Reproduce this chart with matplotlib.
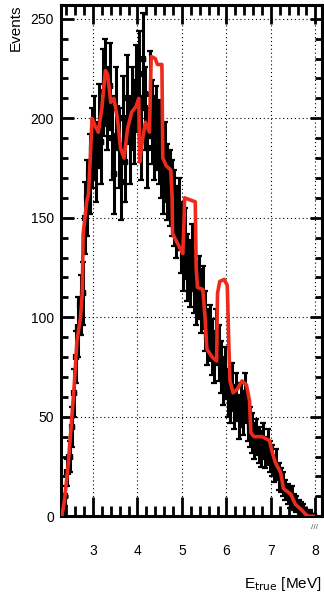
import matplotlib.pyplot as plt
import numpy as np
from matplotlib.ticker import MultipleLocator

plt.rcParams['font.family'] = ['Liberation Sans', 'DejaVu Sans']

# measured spectrum, 0.05 MeV bins
e_centers = np.arange(2.325, 8.0, 0.05)
counts = [3, 10, 22, 30, 45, 62, 80, 95, 106, 112,
          150, 160, 172, 185, 190, 178, 196, 188, 213, 218,
          205, 216, 190, 172, 205, 185, 168, 200, 178, 210,
          188, 205, 198, 215, 222, 190, 230, 205, 185, 212,
          198, 190, 195, 188, 180, 172, 178, 168, 165, 160,
          155, 148, 152, 140, 130, 137, 125, 122, 130, 118,
          112, 115, 108, 110, 98, 90, 92, 85, 80, 90,
          82, 75, 68, 72, 62, 58, 65, 55, 60, 50,
          56, 52, 60, 48, 45, 42, 38, 40, 36, 34,
          38, 32, 35, 30, 28, 24, 26, 20, 18, 16,
          13, 11, 9, 10, 7, 6, 5, 4, 3, 2,
          1, 1, 0, 0]
errors = [3, 5, 7, 8, 10, 12, 13, 15, 15, 16,
          18, 19, 20, 20, 21, 20, 21, 21, 22, 22,
          21, 22, 21, 20, 21, 20, 19, 21, 20, 22,
          21, 21, 21, 22, 22, 21, 23, 21, 20, 22,
          21, 21, 21, 21, 20, 20, 20, 19, 19, 19,
          19, 18, 18, 18, 17, 18, 17, 17, 17, 16,
          16, 16, 16, 16, 15, 14, 14, 14, 13, 14,
          14, 13, 12, 13, 12, 11, 12, 11, 12, 11,
          11, 11, 12, 10, 10, 10, 9, 9, 9, 9,
          9, 8, 9, 8, 8, 7, 8, 7, 6, 6,
          5, 5, 5, 5, 4, 4, 3, 3, 3, 2,
          2, 2, 1, 1]

# prediction curves (vertices)
pred_e = [2.30, 2.36, 2.44, 2.52, 2.58, 2.64, 2.72, 2.76, 2.78, 2.86,
          2.90, 2.95, 2.98, 3.05, 3.12, 3.20, 3.28, 3.33, 3.40, 3.47,
          3.55, 3.62, 3.70, 3.78, 3.87, 3.97, 4.03, 4.05, 4.12, 4.18,
          4.27, 4.31, 4.40, 4.45, 4.55, 4.57, 4.65, 4.75, 4.78, 4.79,
          4.95, 5.02, 5.05, 5.06, 5.30, 5.32, 5.35, 5.47, 5.52, 5.56,
          5.68, 5.78, 5.80, 5.85, 5.95, 6.02, 6.05, 6.08, 6.15, 6.25,
          6.35, 6.45, 6.52, 6.55, 6.62, 6.80, 6.97, 7.02, 7.10, 7.22,
          7.28, 7.45, 7.55, 7.70, 7.78, 7.85, 7.95]
pred_n = [0, 8, 25, 48, 66, 88, 100, 112, 142, 158,
          162, 185, 200, 196, 193, 205, 224, 222, 208, 210,
          200, 185, 180, 195, 203, 206, 210, 178, 190, 198,
          193, 231, 230, 227, 227, 180, 176, 174, 160, 142,
          135, 132, 150, 160, 158, 125, 115, 114, 100, 84,
          80, 78, 112, 118, 119, 116, 90, 68, 62, 64,
          68, 66, 58, 42, 40, 40, 38, 33, 27, 22,
          14, 11, 6, 3, 1, 0, 0]

fig = plt.figure(figsize=(3.24, 6.01), dpi=100)
ax = fig.add_axes([0.188, 0.141, 0.806, 0.851])

ax.grid(True, which='major', color='black', linestyle=(0, (1, 2.5)), linewidth=0.8)
ax.set_axisbelow(True)

ax.errorbar(e_centers, counts, yerr=errors, xerr=0.05, fmt='s', ms=3,
            color='black', ecolor='black', elinewidth=2.2, capsize=2.2,
            capthick=1.6, zorder=2)
ax.plot(pred_e, pred_n, color='#3333dd', lw=1.4, zorder=3)
ax.plot(pred_e, pred_n, color='#ee2a1c', lw=2.6, zorder=4)

ax.set_xlim(2.28, 8.15)
ax.set_ylim(0, 257)
ax.xaxis.set_major_locator(MultipleLocator(1))
ax.xaxis.set_minor_locator(MultipleLocator(0.2))
ax.yaxis.set_major_locator(MultipleLocator(50))
ax.yaxis.set_minor_locator(MultipleLocator(10))
ax.tick_params(axis='x', which='major', direction='in', length=14, width=2,
               top=True, pad=20, labelsize=10)
ax.tick_params(axis='x', which='minor', direction='in', length=7, width=2, top=True)
ax.tick_params(axis='y', which='major', direction='in', length=9, width=2,
               right=True, pad=5, labelsize=10)
ax.tick_params(axis='y', which='minor', direction='in', length=5, width=2, right=True)
for s in ax.spines.values():
    s.set_linewidth(2.2)

ax.set_xlabel(r'E$_{\mathrm{true}}$ [MeV]', fontsize=11, loc='right', labelpad=12)
ax.set_ylabel('Events', fontsize=11, loc='top', labelpad=6)
ax.text(7.98, -4, '///', fontsize=6, color='#555555', ha='center', va='top')

fig.savefig('out.png', dpi=100)
